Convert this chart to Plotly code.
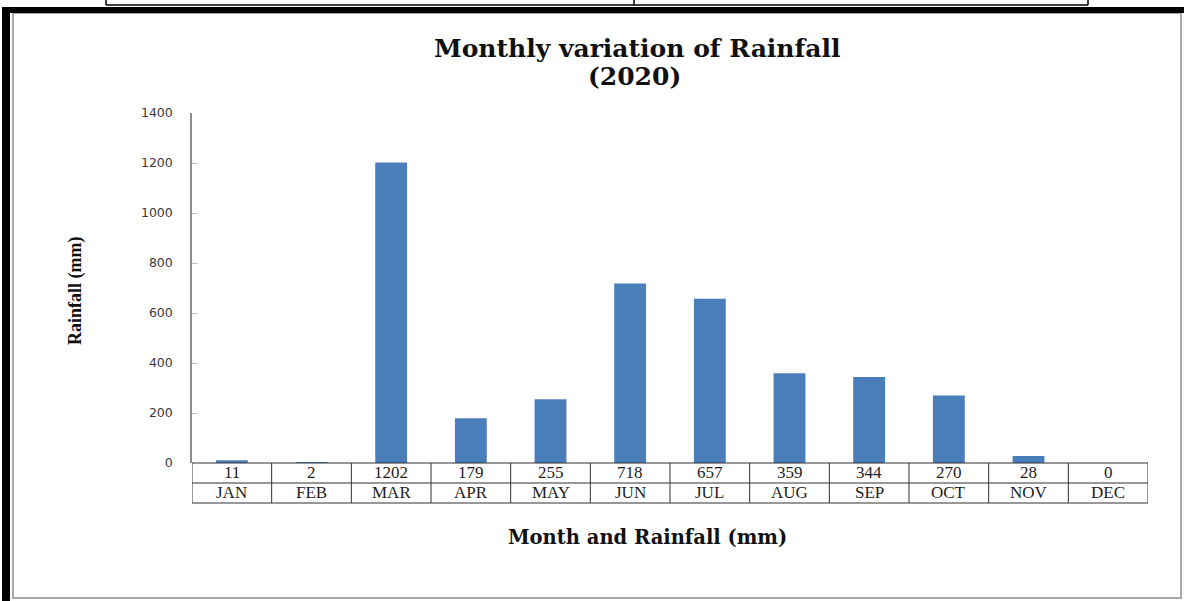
import plotly.graph_objects as go

months = ["JAN", "FEB", "MAR", "APR", "MAY", "JUN", "JUL", "AUG", "SEP", "OCT", "NOV", "DEC"]
rainfall = [11, 2, 1202, 179, 255, 718, 657, 359, 344, 270, 28, 0]
y_ticks = [0, 200, 400, 600, 800, 1000, 1200, 1400]

W, H = 1184, 601
L, R, T, B = 192, 36, 113, 138
PW, PH = W - L - R, H - T - B


def xp(px):
    return (px - L) / PW


def yp(py):
    return (H - B - py) / PH


idx = list(range(len(months)))

fig = go.Figure()
fig.add_trace(go.Bar(x=idx, y=rainfall, width=0.4, marker=dict(color="#4a7ebb", line=dict(width=0)),
                     showlegend=False, hoverinfo="x+y"))

shapes = []
# outer frame
shapes.append(dict(type="rect", xref="paper", yref="paper", x0=xp(13), x1=xp(1181), y0=yp(598), y1=yp(13),
                   line=dict(color="#a8a8a8", width=2), fillcolor="rgba(0,0,0,0)", layer="below"))
shapes.append(dict(type="rect", xref="paper", yref="paper", x0=xp(2), x1=xp(10), y0=yp(601), y1=yp(7),
                   line=dict(width=0), fillcolor="black"))
shapes.append(dict(type="rect", xref="paper", yref="paper", x0=xp(2), x1=xp(1184), y0=yp(13), y1=yp(7),
                   line=dict(width=0), fillcolor="black"))
# top strip box
for px in (106, 634, 1088):
    shapes.append(dict(type="line", xref="paper", yref="paper", x0=xp(px), x1=xp(px), y0=yp(5), y1=yp(-2),
                       line=dict(color="black", width=1.5)))
shapes.append(dict(type="line", xref="paper", yref="paper", x0=xp(106), x1=xp(1088), y0=yp(5), y1=yp(5),
                   line=dict(color="black", width=1.5)))

# data table under the axis
row_mid, row_bot = yp(483), yp(503)
for i in range(len(months) + 1):
    shapes.append(dict(type="line", xref="x", yref="paper", x0=i - 0.5, x1=i - 0.5, y0=row_bot, y1=0,
                       line=dict(color="#303030", width=1)))
for yy in (0, row_mid, row_bot):
    shapes.append(dict(type="line", xref="x", yref="paper", x0=-0.5, x1=len(months) - 0.5, y0=yy, y1=yy,
                       line=dict(color="#303030", width=1)))

tfont = dict(family="Liberation Serif, Times New Roman, serif", size=17, color="#1e1e1e")
ann = []
for i, (m, v) in enumerate(zip(months, rainfall)):
    ann.append(dict(x=i, y=yp(473), xref="x", yref="paper", text=str(v), showarrow=False, font=tfont,
                    xanchor="center", yanchor="middle"))
    ann.append(dict(x=i, y=yp(493), xref="x", yref="paper", text=m, showarrow=False, font=tfont,
                    xanchor="center", yanchor="middle"))

wide = "DejaVu Serif, serif"
times = "Liberation Serif, Times New Roman, serif"
ann.append(dict(x=xp(637), y=yp(48), xref="paper", yref="paper",
                text="<b>Monthly variation of Rainfall</b>", showarrow=False,
                font=dict(family=wide, size=25, color="#111111"), xanchor="center", yanchor="middle"))
ann.append(dict(x=xp(634), y=yp(76), xref="paper", yref="paper",
                text="<b>(2020)</b>", showarrow=False,
                font=dict(family=wide, size=25, color="#111111"), xanchor="center", yanchor="middle"))
ann.append(dict(x=xp(75), y=yp(291), xref="paper", yref="paper", text="<b>Rainfall (mm)</b>",
                showarrow=False, textangle=-90, font=dict(family=times, size=18, color="#111111"),
                xanchor="center", yanchor="middle"))
ann.append(dict(x=xp(647), y=yp(537), xref="paper", yref="paper", text="<b>Month and Rainfall (mm)</b>",
                showarrow=False, font=dict(family=wide, size=19.5, color="#111111"),
                xanchor="center", yanchor="middle"))

fig.update_layout(
    width=W, height=H,
    margin=dict(l=L, r=R, t=T, b=B, pad=0),
    paper_bgcolor="white", plot_bgcolor="white",
    shapes=shapes, annotations=ann,
    bargap=0.6,
    xaxis=dict(range=[-0.5, len(months) - 0.5], showticklabels=False, showgrid=False, zeroline=False,
               showline=False, ticks="", fixedrange=True),
    yaxis=dict(range=[0, 1400], tickvals=y_ticks, ticktext=[str(t) for t in y_ticks], showgrid=False,
               zeroline=False, showline=True, linecolor="#8c8c8c", linewidth=1.5, ticks="inside",
               ticklen=5, tickcolor="#c0c0c0", ticklabelstandoff=15,
               tickfont=dict(family="DejaVu Sans, sans-serif", size=12.5, color="#3a3a3a"), fixedrange=True),
)

fig.write_html("out.html", config={"displayModeBar": False},
               post_script="document.body.style.margin='0';")
